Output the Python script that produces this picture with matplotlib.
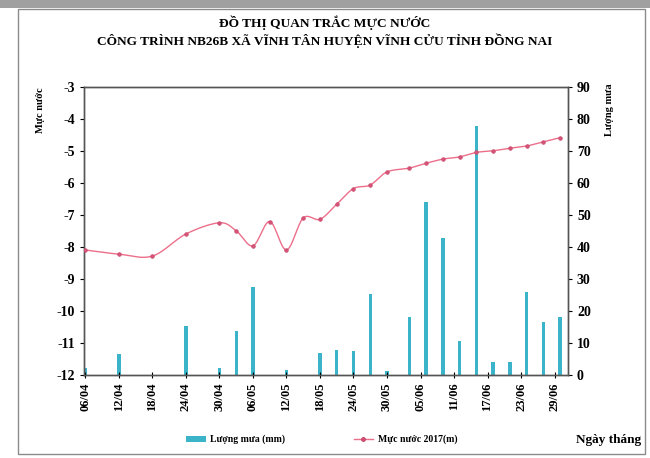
import numpy as np
import matplotlib
matplotlib.use("Agg")
import matplotlib.pyplot as plt
import matplotlib.dates as mdates
from matplotlib.patches import Rectangle, Patch
from matplotlib.lines import Line2D
import datetime as dt

# ---------------- data ----------------
dates = ["06/04", "12/04", "18/04", "24/04", "30/04", "03/05", "06/05", "09/05",
         "12/05", "15/05", "18/05", "21/05", "24/05", "27/05", "30/05", "03/06",
         "06/06", "09/06", "12/06", "15/06", "18/06", "21/06", "24/06", "27/06",
         "30/06"]
water_level = [-8.09, -8.22, -8.28, -7.59, -7.24, -7.49, -7.96, -7.20,
               -8.09, -7.09, -7.13, -6.66, -6.17, -6.06, -5.65, -5.53,
               -5.38, -5.25, -5.18, -5.04, -4.99, -4.91, -4.84, -4.71,
               -4.58]
rainfall = [2.2, 6.6, 0.0, 15.3, 2.2, 13.8, 27.6, 0.0,
            1.5, 0.0, 6.8, 8.0, 7.4, 25.4, 1.3, 18.3,
            54.2, 42.7, 10.7, 78.0, 4.0, 4.0, 26.0, 16.7,
            18.2]
tick_dates = ["06/04", "12/04", "18/04", "24/04", "30/04", "06/05", "12/05",
              "18/05", "24/05", "30/05", "05/06", "11/06", "17/06", "23/06",
              "29/06"]
year = 2017

title = "ĐỒ THỊ QUAN TRẮC MỰC NƯỚC\nCÔNG TRÌNH NB26B XÃ VĨNH TÂN HUYỆN VĨNH CỬU TỈNH ĐỒNG NAI"
left_label = "Mực nước"
right_label = "Lượng mưa"
x_label = "Ngày tháng"
bar_label = "Lượng mưa (mm)"
line_label = "Mực nước 2017(m)"

# ---------------- helpers ----------------
def to_num(s):
    d, m = s.split("/")
    return mdates.date2num(dt.datetime(year, int(m), int(d)))

xd = np.array([to_num(s) for s in dates])
xt = np.array([to_num(s) for s in tick_dates])
yl = np.array(water_level)

def catmull_rom(x, y, n=20):
    px = np.concatenate([[2 * x[0] - x[1]], x, [2 * x[-1] - x[-2]]])
    py = np.concatenate([[2 * y[0] - y[1]], y, [2 * y[-1] - y[-2]]])
    ox, oy = [], []
    t = np.linspace(0, 1, n, endpoint=False)
    for i in range(1, len(px) - 2):
        for arr, out in ((px, ox), (py, oy)):
            p0, p1, p2, p3 = arr[i - 1], arr[i], arr[i + 1], arr[i + 2]
            out.extend(0.5 * ((2 * p1) + (-p0 + p2) * t +
                              (2 * p0 - 5 * p1 + 4 * p2 - p3) * t ** 2 +
                              (-p0 + 3 * p1 - 3 * p2 + p3) * t ** 3))
    ox.append(x[-1]); oy.append(y[-1])
    return np.array(ox), np.array(oy)

# ---------------- figure ----------------
serif = ["Liberation Serif", "DejaVu Serif"]
plt.rcParams["font.family"] = serif
plt.rcParams["axes.unicode_minus"] = False

fig = plt.figure(figsize=(6.5, 4.58), dpi=100)
fig.patch.set_facecolor("white")
fig.add_artist(Rectangle((0.028, 0.008), 0.964, 0.972, transform=fig.transFigure,
                         fill=False, edgecolor="#8a8a8a", linewidth=1.0))
fig.add_artist(Rectangle((0.0, 0.982), 1.0, 0.018, transform=fig.transFigure,
                         facecolor="#a0a0a0", edgecolor="none"))

ax = fig.add_axes([0.1292, 0.181, 0.7446, 0.6288])
ax2 = ax.twinx()

# line on left axis, bars on right axis; draw line on top
ax.set_zorder(ax2.get_zorder() + 1)
ax.patch.set_visible(False)

bar_color = "#3bb4c9"
ax2.bar(xd, rainfall, width=0.6, color=bar_color, edgecolor="none", zorder=2)
ax2.set_ylim(0, 90)
ax2.set_yticks(np.arange(0, 91, 10))

line_color = "#ec6f8a"
sx, sy = catmull_rom(xd, yl)
ax.plot(sx, sy, color=line_color, lw=1.0, zorder=3)
ax.plot(xd, yl, ls="none", marker="o", ms=2.6, mfc="#d65478", mec="#c8486c",
        mew=0.5, zorder=4)

ax.set_ylim(-12, -3)
ax.set_yticks(np.arange(-12, -2, 1))
ax.set_xlim(xt[0] - 0.25, xt[0] + 86.4)
ax.set_xticks(xt)
ax.set_xticklabels(tick_dates, rotation=90, fontsize=9, fontweight="bold")
ax.tick_params(axis="x", direction="inout", length=5, width=0.8, pad=3)
ax.tick_params(axis="y", direction="out", length=3, width=0.8, labelsize=10)
ax2.tick_params(axis="y", direction="out", length=3, width=0.8, labelsize=10)
for lab in ax.get_yticklabels() + ax2.get_yticklabels():
    lab.set_fontweight("bold")

for a in (ax, ax2):
    for sp in a.spines.values():
        sp.set_color("#555555")
        sp.set_linewidth(1.0)

# texts
fig.text(0.5, 0.930, title, ha="center", va="center", fontsize=9.6,
         fontweight="bold", linespacing=1.3)
fig.text(0.062, 0.76, left_label, rotation=90, ha="center", va="center",
         fontsize=7.5, fontweight="bold")
fig.text(0.937, 0.76, right_label, rotation=90, ha="center", va="center",
         fontsize=7.5, fontweight="bold")
fig.text(0.937, 0.04, x_label, ha="center", va="center", fontsize=9.5,
         fontweight="bold")

handles = [Patch(facecolor=bar_color, edgecolor="none"),
           Line2D([], [], color=line_color, lw=1.0, marker="o", ms=2.5,
                  mfc="#d65478", mec="#c8486c")]
leg = fig.legend(handles, [bar_label, line_label], loc="center",
                 bbox_to_anchor=(0.495, 0.04), ncol=2, frameon=False,
                 fontsize=7, columnspacing=7, handlelength=2.0,
                 handleheight=0.6, handletextpad=0.5)
for t in leg.get_texts():
    t.set_fontweight("bold")

fig.savefig("out.png", dpi=100)
